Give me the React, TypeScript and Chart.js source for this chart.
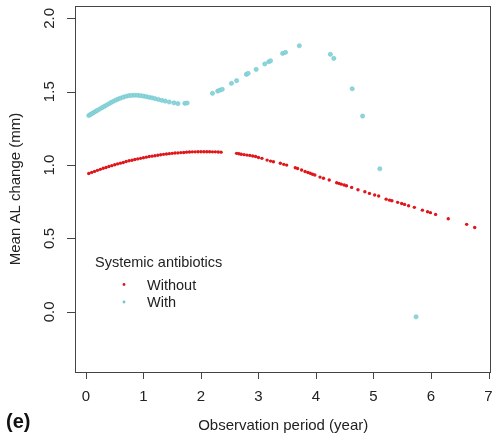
import React, { useEffect, useRef } from "react";
import { Chart, registerables } from "chart.js";

Chart.register(...registerables);

// Observation period (years) and mean AL change (mm), patients without systemic antibiotics
const withoutX = [
  0.05, 0.1, 0.15, 0.2, 0.25, 0.3, 0.35, 0.4, 0.45, 0.5, 0.55, 0.6, 0.65, 0.7, 0.75, 0.8, 0.85, 0.9, 0.95, 1.0,
  1.05, 1.1, 1.15, 1.2, 1.25, 1.3, 1.35, 1.4, 1.45, 1.5, 1.55, 1.6, 1.65, 1.7, 1.75, 1.8, 1.85, 1.9, 1.95, 2.0,
  2.05, 2.1, 2.15, 2.2, 2.25, 2.3, 2.35, 2.62, 2.66, 2.7, 2.75, 2.8, 2.85, 2.9, 2.95, 3.0, 3.06, 3.15, 3.21,
  3.26, 3.38, 3.44, 3.49, 3.64, 3.68, 3.75, 3.81, 3.86, 3.9, 3.94, 3.98, 4.07, 4.13, 4.23, 4.36, 4.4, 4.44,
  4.49, 4.53, 4.62, 4.73, 4.85, 4.93, 5.02, 5.09, 5.22, 5.28, 5.32, 5.42, 5.49, 5.54, 5.61, 5.71, 5.85, 5.94,
  5.99, 6.08, 6.3, 6.62, 6.76,
];
const withoutY = [
  0.943, 0.95, 0.957, 0.964, 0.971, 0.978, 0.984, 0.99, 0.996, 1.002, 1.008, 1.013, 1.018, 1.024, 1.029, 1.033,
  1.038, 1.042, 1.046, 1.05, 1.054, 1.058, 1.061, 1.064, 1.067, 1.07, 1.073, 1.075, 1.078, 1.08, 1.082, 1.083,
  1.085, 1.086, 1.088, 1.089, 1.09, 1.09, 1.091, 1.091, 1.091, 1.091, 1.091, 1.09, 1.09, 1.089, 1.088, 1.08,
  1.077, 1.074, 1.071, 1.068, 1.066, 1.062, 1.058, 1.052, 1.046, 1.034, 1.027, 1.023, 1.012, 1.005, 1.0, 0.982,
  0.977, 0.966, 0.956, 0.949, 0.944, 0.938, 0.932, 0.918, 0.91, 0.898, 0.88, 0.875, 0.87, 0.864, 0.859, 0.848,
  0.832, 0.818, 0.807, 0.796, 0.789, 0.768, 0.761, 0.757, 0.746, 0.738, 0.732, 0.723, 0.712, 0.693, 0.682,
  0.676, 0.664, 0.634, 0.596, 0.575,
];

// Patients with systemic antibiotics
const withX = [
  0.05, 0.08, 0.11, 0.14, 0.17, 0.2, 0.24, 0.28, 0.32, 0.36, 0.4, 0.44, 0.48, 0.52, 0.56, 0.6, 0.65, 0.7, 0.75,
  0.8, 0.85, 0.9, 0.95, 1.0, 1.05, 1.1, 1.15, 1.2, 1.26, 1.32, 1.38, 1.45, 1.53, 1.6, 1.72, 1.76, 2.2, 2.29,
  2.33, 2.37, 2.53, 2.62, 2.79, 2.82, 2.96, 3.11, 3.18, 3.21, 3.42, 3.47, 3.71, 4.25, 4.31, 4.63, 4.81, 5.11,
  5.74,
];
const withY = [
  1.338, 1.345, 1.352, 1.359, 1.366, 1.373, 1.382, 1.391, 1.4, 1.409, 1.418, 1.427, 1.435, 1.443, 1.45, 1.456,
  1.463, 1.469, 1.473, 1.475, 1.476, 1.475, 1.473, 1.47, 1.466, 1.462, 1.458, 1.453, 1.447, 1.441, 1.436, 1.43,
  1.424, 1.419, 1.421, 1.423, 1.489, 1.504, 1.511, 1.516, 1.557, 1.575, 1.618, 1.625, 1.652, 1.689, 1.704,
  1.711, 1.761, 1.768, 1.813, 1.755, 1.727, 1.52, 1.334, 0.975, -0.034,
];

const xTicks = [0, 1, 2, 3, 4, 5, 6, 7];
const yTicks = [0, 0.5, 1.0, 1.5, 2.0];
const seriesLabels = ["Without", "With"];

const RED = "#e0161b";
const CYAN = "#6cc7cf";
const FONT = '"Liberation Sans", Arial, Helvetica, sans-serif';

const toPoints = (xs: number[], ys: number[]) => xs.map((x, i) => ({ x, y: ys[i] }));

// Base-graphics style frame, axes, titles and legend
const frame = {
  id: "frame",
  afterDraw(chart: any) {
    const { ctx, chartArea: a, scales } = chart;
    const xs = scales.x;
    const ys = scales.y;
    ctx.save();
    ctx.strokeStyle = "#444";
    ctx.lineWidth = 1;
    ctx.strokeRect(Math.round(a.left) + 0.5, Math.round(a.top) + 0.5, Math.round(a.right - a.left) - 1, Math.round(a.bottom - a.top));

    ctx.fillStyle = "#222";
    ctx.font = `15px ${FONT}`;
    // x axis ticks
    ctx.beginPath();
    xTicks.forEach((t) => {
      const px = Math.round(xs.getPixelForValue(t)) + 0.5;
      ctx.moveTo(px, a.bottom);
      ctx.lineTo(px, a.bottom + 7);
    });
    ctx.stroke();
    ctx.textAlign = "center";
    ctx.textBaseline = "alphabetic";
    xTicks.forEach((t) => {
      ctx.fillText(String(t), xs.getPixelForValue(t), a.bottom + 29);
    });
    // y axis ticks
    ctx.beginPath();
    yTicks.forEach((t) => {
      const py = Math.round(ys.getPixelForValue(t)) + 0.5;
      ctx.moveTo(a.left, py);
      ctx.lineTo(a.left - 8, py);
    });
    ctx.stroke();
    yTicks.forEach((t) => {
      ctx.save();
      ctx.translate(a.left - 21.5, ys.getPixelForValue(t));
      ctx.rotate(-Math.PI / 2);
      ctx.fillText(t.toFixed(1), 0, 0);
      ctx.restore();
    });

    // axis titles
    ctx.fillText("Observation period (year)", (a.left + a.right) / 2, 430);
    ctx.save();
    ctx.translate(20, (a.top + a.bottom) / 2);
    ctx.rotate(-Math.PI / 2);
    ctx.fillText("Mean AL change (mm)", 0, 0);
    ctx.restore();

    // panel tag
    ctx.textAlign = "left";
    ctx.fillStyle = "#111";
    ctx.font = `bold 20px ${FONT}`;
    ctx.fillText("(e)", 6, 428);

    // legend
    ctx.fillStyle = "#222";
    ctx.font = `14.5px ${FONT}`;
    ctx.fillText("Systemic antibiotics", 95, 267);
    const rows = [
      { label: seriesLabels[0], color: RED, y: 289.5 },
      { label: seriesLabels[1], color: CYAN, y: 307 },
    ];
    rows.forEach((r) => {
      ctx.fillStyle = "#222";
      ctx.fillText(r.label, 147, r.y);
      ctx.fillStyle = r.color;
      ctx.beginPath();
      ctx.arc(124, r.y - 5, 1.4, 0, Math.PI * 2);
      ctx.fill();
    });
    ctx.restore();
  },
};

export default function App() {
  const ref = useRef<HTMLCanvasElement | null>(null);

  useEffect(() => {
    document.body.style.margin = "0";
    const canvas = ref.current;
    if (!canvas) return;
    const chart = new Chart(canvas, {
      type: "scatter",
      data: {
        datasets: [
          {
            label: seriesLabels[0],
            data: toPoints(withoutX, withoutY),
            pointRadius: 1.7,
            pointBorderWidth: 0,
            pointBackgroundColor: RED,
            pointBorderColor: RED,
          },
          {
            label: seriesLabels[1],
            data: toPoints(withX, withY),
            pointRadius: 2.1,
            pointBorderWidth: 0.6,
            pointBackgroundColor: "#8ed4da",
            pointBorderColor: CYAN,
          },
        ],
      },
      options: {
        responsive: false,
        animation: false,
        devicePixelRatio: 1,
        layout: { padding: { left: 75, top: 6, right: 2, bottom: 69 } },
        plugins: { legend: { display: false }, tooltip: { enabled: false } },
        scales: {
          x: { type: "linear", min: -0.19, max: 7.05, display: false },
          y: { type: "linear", min: -0.41, max: 2.084, display: false },
        },
      },
      plugins: [frame],
    });
    return () => chart.destroy();
  }, []);

  return (
    <div style={{ position: "fixed", left: 0, top: 0, width: 496, height: 441, background: "#fff" }}>
      <canvas ref={ref} width={496} height={441} style={{ display: "block" }} />
    </div>
  );
}
